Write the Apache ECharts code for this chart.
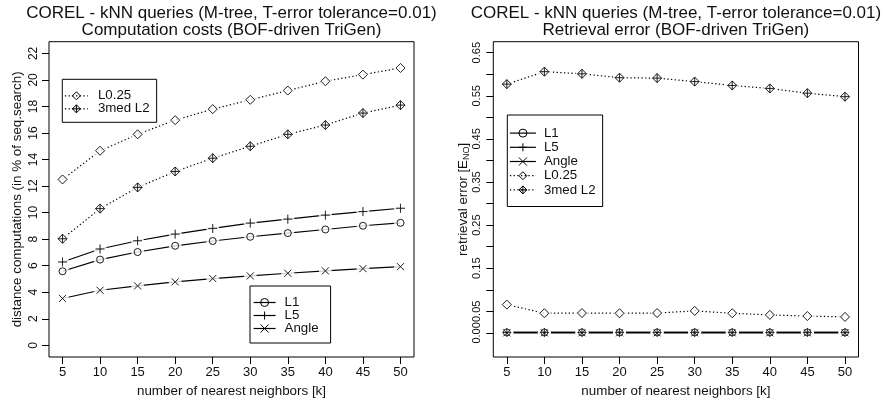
<!DOCTYPE html>
<html><head><meta charset="utf-8">
<script src="https://cdn.jsdelivr.net/npm/echarts@6/dist/echarts.min.js"></script>
<style>html,body{margin:0;padding:0;background:#fff}#c{width:882px;height:403px}</style>
</head><body><div id="c"></div>
<script>
// ---- data ----
const kValues = [5, 10, 15, 20, 25, 30, 35, 40, 45, 50];
// left: computation costs (in % of seq. search)
const costL1    = [5.58, 6.46, 7.03, 7.50, 7.86, 8.18, 8.46, 8.73, 9.01, 9.23];
const costL5    = [6.28, 7.26, 7.88, 8.38, 8.81, 9.21, 9.51, 9.81, 10.08, 10.33];
const costAngle = [3.53, 4.15, 4.48, 4.78, 5.03, 5.23, 5.43, 5.61, 5.78, 5.93];
const costL025  = [12.5, 14.66, 15.9, 16.97, 17.8, 18.5, 19.2, 19.9, 20.4, 20.9];
const cost3medL2 = [8.03, 10.3, 11.9, 13.1, 14.1, 15.0, 15.9, 16.6, 17.5, 18.1];
// right: retrieval error
const errL1    = [0.001, 0.001, 0.001, 0.001, 0.001, 0.001, 0.001, 0.001, 0.001, 0.001];
const errL5    = [0.001, 0.001, 0.001, 0.001, 0.001, 0.001, 0.001, 0.001, 0.001, 0.001];
const errAngle = [0.0, 0.0, 0.0, 0.0, 0.0, 0.0, 0.0, 0.0, 0.0, 0.0];
const errL025  = [0.0656, 0.0455, 0.046, 0.0455, 0.046, 0.051, 0.0455, 0.0417, 0.039, 0.037];
const err3medL2 = [0.577, 0.606, 0.601, 0.592, 0.591, 0.583, 0.574, 0.567, 0.556, 0.548];
// ticks / labels
const kTicks = [5, 10, 15, 20, 25, 30, 35, 40, 45, 50];
const costTicks = [0, 2, 4, 6, 8, 10, 12, 14, 16, 18, 20, 22];
const errTicks = [0, 0.05, 0.1, 0.15, 0.2, 0.25, 0.3, 0.35, 0.4, 0.45, 0.5, 0.55, 0.6, 0.65];
const errLabels = [0, 0.05, 0.15, 0.25, 0.35, 0.45, 0.55, 0.65];
const titleLine1 = 'COREL - kNN queries (M-tree, T-error tolerance=0.01)';
const titleLeft2 = 'Computation costs (BOF-driven TriGen)';
const titleRight2 = 'Retrieval error (BOF-driven TriGen)';

// ---- styling ----
const FONT = 'Liberation Sans, Arial, Helvetica, sans-serif';
const INK = '#111';
const SYM = {
  circle: 'circle',
  plus: 'path://M0,-5L0,5M-5,0L5,0',
  cross: 'path://M-5,-5L5,5M-5,5L5,-5',
  diamond: 'diamond',
  diamondPlus: 'path://M0,-5L5,0L0,5L-5,0ZM0,-5L0,5M-5,0L5,0'
};
const SPECS = [
  {name: 'L1', sym: SYM.circle, size: 7, dotted: false},
  {name: 'L5', sym: SYM.plus, size: 9, dotted: false},
  {name: 'Angle', sym: SYM.cross, size: 7, dotted: false},
  {name: 'L0.25', sym: SYM.diamond, size: 9, dotted: true},
  {name: '3med L2', sym: SYM.diamondPlus, size: 9, dotted: true}
];

function buildSeries(gi, spec, values) {
  const pts = kValues.map((k, i) => [k, values[i]]);
  const ax = {xAxisIndex: gi, yAxisIndex: gi};
  const symStyle = {color: 'rgba(0,0,0,0)', borderColor: '#000', borderWidth: 1};
  return [
    Object.assign({}, ax, {
      type: 'line', name: spec.name, data: pts, z: 2,
      symbol: spec.sym, symbolSize: spec.size, showSymbol: true,
      itemStyle: symStyle,
      lineStyle: {color: '#000', width: 1.2, type: spec.dotted ? [1.3, 2.4] : 'solid'},
      emphasis: {disabled: true}, silent: true
    }),
    Object.assign({}, ax, {
      type: 'scatter', name: spec.name + '#gap', data: pts, z: 3,
      symbol: 'circle', symbolSize: 13, itemStyle: {color: '#fff'}, silent: true
    }),
    Object.assign({}, ax, {
      type: 'scatter', name: spec.name + '#sym', data: pts, z: 4,
      symbol: spec.sym, symbolSize: spec.size, itemStyle: symStyle, silent: true
    })
  ];
}

const series = [];
[costL1, costL5, costAngle, costL025, cost3medL2].forEach((v, i) => series.push(...buildSeries(0, SPECS[i], v)));
[errL1, errL5, errAngle, errL025, err3medL2].forEach((v, i) => series.push(...buildSeries(1, SPECS[i], v)));

function xAxis(gi) {
  return {
    gridIndex: gi, type: 'value', min: 3.2, max: 51.8,
    axisLine: {show: false, onZero: false},
    axisTick: {show: true, length: 7, customValues: kTicks, lineStyle: {color: '#000', width: 1}},
    axisLabel: {customValues: kTicks, fontSize: 13, fontFamily: FONT, color: INK, margin: 9,
      showMinLabel: true, showMaxLabel: true, hideOverlap: false},
    splitLine: {show: false},
    name: 'number of nearest neighbors [k]', nameLocation: 'middle', nameGap: 28,
    nameTextStyle: {fontSize: 13.4, fontFamily: FONT, color: INK}
  };
}

function legend(names, left, top, padding, itemWidth, textPad, lineHeight) {
  return {
    data: names, orient: 'vertical', left: left, top: top, padding: padding,
    itemWidth: itemWidth, itemHeight: 10, itemGap: 0, selectedMode: false,
    borderColor: '#000', borderWidth: 1, borderRadius: 0, backgroundColor: '#fff', z: 10,
    itemStyle: {borderWidth: 1, borderColor: '#000'},
    lineStyle: {width: 1.2},
    textStyle: {fontSize: 13.3, fontFamily: FONT, color: INK, lineHeight: lineHeight, padding: [0, 0, 0, textPad]}
  };
}

const option = {
  animation: false,
  backgroundColor: '#fff',
  grid: [
    {left: 49, top: 41.7, width: 365, height: 315.8, show: true, borderColor: '#000', borderWidth: 1, backgroundColor: 'transparent'},
    {left: 493.3, top: 41.7, width: 365.2, height: 315.8, show: true, borderColor: '#000', borderWidth: 1, backgroundColor: 'transparent'}
  ],
  xAxis: [xAxis(0), xAxis(1)],
  yAxis: [
    {
      gridIndex: 0, type: 'value', min: -0.88, max: 22.88,
      axisLine: {show: false, onZero: false},
      axisTick: {show: true, length: 7, customValues: costTicks, lineStyle: {color: '#000', width: 1}},
      axisLabel: {customValues: costTicks, rotate: 90, fontSize: 12, fontFamily: FONT, color: INK, margin: 9.5,
        showMinLabel: true, showMaxLabel: true, hideOverlap: false},
      splitLine: {show: false},
      name: 'distance computations (in % of seq.search)', nameLocation: 'middle', nameRotate: 90, nameGap: 25,
      nameTextStyle: {fontSize: 13.4, fontFamily: FONT, color: INK}
    },
    {
      gridIndex: 1, type: 'value', min: -0.056, max: 0.6755,
      axisLine: {show: false, onZero: false},
      axisTick: {show: true, length: 7, customValues: errTicks, lineStyle: {color: '#000', width: 1}},
      axisLabel: {customValues: errLabels, rotate: 90, fontSize: 11, fontFamily: FONT, color: INK, margin: 10.5,
        showMinLabel: true, showMaxLabel: true, hideOverlap: false, formatter: v => v.toFixed(2)},
      splitLine: {show: false},
      name: '{a|retrieval error [E}{s|NO}{a|]}', nameLocation: 'middle', nameRotate: 90, nameGap: 21,
      nameTextStyle: {fontSize: 13.4, fontFamily: FONT, color: INK,
        rich: {a: {fontSize: 13.4, fontFamily: FONT, color: INK, lineHeight: 16, verticalAlign: 'middle'},
               s: {fontSize: 9, fontFamily: FONT, color: INK, lineHeight: 16, verticalAlign: 'bottom'}}}
    }
  ],
  legend: [
    legend(['L0.25', '3med L2'], 62.3, 79.3, [10, 7, 7, 2], 23, 5, 13),
    legend(['L1', 'L5', 'Angle'], 250, 286, [10, 12, 8, 3], 22, 4, 13),
    legend(['L1', 'L5', 'Angle', 'L0.25', '3med L2'], 507.3, 115, [11, 7, 9.5, 2], 26, 3, 14.2)
  ],
  graphic: [
    {type: 'text', x: 231.5, y: 13.8, silent: true, style: {text: titleLine1, font: '17px ' + FONT, fill: INK, textAlign: 'center', textVerticalAlign: 'middle'}},
    {type: 'text', x: 231.5, y: 30.5, silent: true, style: {text: titleLeft2, font: '17px ' + FONT, fill: INK, textAlign: 'center', textVerticalAlign: 'middle'}},
    {type: 'text', x: 675.9, y: 13.8, silent: true, style: {text: titleLine1, font: '17px ' + FONT, fill: INK, textAlign: 'center', textVerticalAlign: 'middle'}},
    {type: 'text', x: 675.9, y: 30.5, silent: true, style: {text: titleRight2, font: '17px ' + FONT, fill: INK, textAlign: 'center', textVerticalAlign: 'middle'}}
  ],
  series: series
};

const chart = echarts.init(document.getElementById('c'), null, {renderer: 'canvas'});
chart.setOption(option);
</script>
</body></html>
